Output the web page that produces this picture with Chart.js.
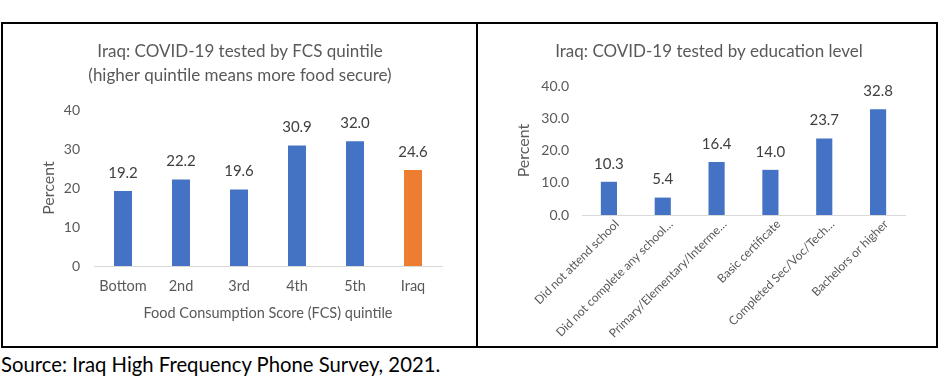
<!DOCTYPE html>
<html>
<head>
<meta charset="utf-8">
<script src="https://cdn.jsdelivr.net/npm/chart.js@4.4.1/dist/chart.umd.min.js"></script>
<style>
  body { margin: 0; width: 952px; height: 388px; background: #fff; position: relative; overflow: hidden; font-family: Lato, sans-serif; }
  .frame { position: absolute; box-sizing: border-box; border: 2px solid #000; }
  canvas { position: absolute; }
  #source { position: absolute; left: 1px; top: 353px; font-size: 20.3px; line-height: 22px; color: #000; white-space: nowrap; }
</style>
</head>
<body>
<div class="frame" style="left:1px; top:22px; width:477px; height:326px;"></div>
<div class="frame" style="left:476px; top:22px; width:462px; height:326px;"></div>
<canvas id="fcsChart" style="left:4px; top:25px;" width="470" height="320"></canvas>
<canvas id="eduChart" style="left:479px; top:25px;" width="456" height="320"></canvas>
<div id="source">Source: Iraq High Frequency Phone Survey, 2021.</div>

<script>
// Datos
const fcsQuintiles = ['Bottom', '2nd', '3rd', '4th', '5th', 'Iraq'];
const fcsTested = [19.2, 22.2, 19.6, 30.9, 32.0, 24.6];

const eduLevels = [
  'Did not attend school',
  'Did not complete any school…',
  'Primary/Elementary/Interme…',
  'Basic certificate',
  'Completed Sec/Voc/Tech…',
  'Bachelors or higher'
];
const eduTested = [10.3, 5.4, 16.4, 14.0, 23.7, 32.8];

const yTicks = [0, 10, 20, 30, 40];

const BLUE = '#4472C4';
const ORANGE = '#ED7D31';
const GREY = '#595959';
const FONT = 'Lato, sans-serif';

// Etiquetas de valor encima de cada barra
const valueLabels = {
  id: 'valueLabels',
  afterDatasetsDraw(chart, args, opts) {
    const ctx = chart.ctx;
    const meta = chart.getDatasetMeta(0);
    const values = chart.data.datasets[0].data;
    ctx.save();
    ctx.font = opts.size + 'px ' + FONT;
    ctx.fillStyle = '#404040';
    ctx.textAlign = 'center';
    ctx.textBaseline = 'middle';
    meta.data.forEach((bar, i) => {
      ctx.fillText(values[i].toFixed(1), bar.x, bar.y - opts.offset);
    });
    ctx.restore();
  }
};

Chart.defaults.font.family = FONT;
Chart.defaults.color = GREY;
Chart.defaults.animation = false;

const fixedWidth = w => scale => { scale.width = w; };
const fixedHeight = h => scale => { scale.height = h; };

new Chart(document.getElementById('fcsChart'), {
  type: 'bar',
  data: {
    labels: fcsQuintiles,
    datasets: [{
      data: fcsTested,
      backgroundColor: fcsQuintiles.map(q => q === 'Iraq' ? ORANGE : BLUE),
      barPercentage: 0.31,
      categoryPercentage: 1
    }]
  },
  options: {
    responsive: false,
    layout: { padding: { left: 34, right: 32, top: 0, bottom: 0 } },
    scales: {
      x: {
        afterFit: fixedHeight(79),
        grid: { display: false, drawTicks: false },
        border: { display: true, color: '#d9d9d9', width: 1 },
        ticks: { font: { size: 14.5 }, padding: 12, maxRotation: 0 },
        title: {
          display: true,
          text: 'Food Consumption Score (FCS) quintile',
          font: { size: 14.5 },
          padding: { top: 0, bottom: 23 }
        }
      },
      y: {
        min: 0,
        max: 40,
        afterFit: fixedWidth(56),
        afterBuildTicks: s => { s.ticks = yTicks.map(v => ({ value: v })); },
        grid: { display: false, drawTicks: false },
        border: { display: false },
        ticks: { font: { size: 14 }, padding: 14 },
        title: { display: true, text: 'Percent', font: { size: 16 }, padding: { top: 1, bottom: 0 } }
      }
    },
    plugins: {
      legend: { display: false },
      tooltip: { enabled: false },
      title: {
        display: true,
        text: ['Iraq: COVID-19 tested by FCS quintile', '(higher quintile means more food secure)'],
        font: { size: 17, weight: 'normal', lineHeight: 24 / 17 },
        color: GREY,
        padding: { top: 15, bottom: 22 }
      },
      valueLabels: { size: 15, offset: 18 }
    }
  },
  plugins: [valueLabels]
});

new Chart(document.getElementById('eduChart'), {
  type: 'bar',
  data: {
    labels: eduLevels,
    datasets: [{
      data: eduTested,
      backgroundColor: BLUE,
      barPercentage: 0.3,
      categoryPercentage: 1
    }]
  },
  options: {
    responsive: false,
    layout: { padding: { left: 34, right: 30, top: 0, bottom: 0 } },
    scales: {
      x: {
        afterFit: fixedHeight(130),
        grid: { display: false, drawTicks: false },
        border: { display: true, color: '#d9d9d9', width: 1 },
        ticks: { font: { size: 12 }, padding: 2, labelOffset: 8, minRotation: 45, maxRotation: 45, autoSkip: false }
      },
      y: {
        min: 0,
        max: 40,
        afterFit: fixedWidth(69),
        afterBuildTicks: s => { s.ticks = yTicks.map(v => ({ value: v })); },
        grid: { display: false, drawTicks: false },
        border: { display: false },
        ticks: { font: { size: 14 }, padding: 13, callback: v => v.toFixed(1) },
        title: { display: true, text: 'Percent', font: { size: 16 }, padding: { top: 1, bottom: 0 } }
      }
    },
    plugins: {
      legend: { display: false },
      tooltip: { enabled: false },
      title: {
        display: true,
        text: 'Iraq: COVID-19 tested by education level',
        font: { size: 17, weight: 'normal', lineHeight: 24 / 17 },
        color: GREY,
        padding: { top: 15, bottom: 22 }
      },
      valueLabels: { size: 15, offset: 18 }
    }
  },
  plugins: [valueLabels]
});
</script>
</body>
</html>
